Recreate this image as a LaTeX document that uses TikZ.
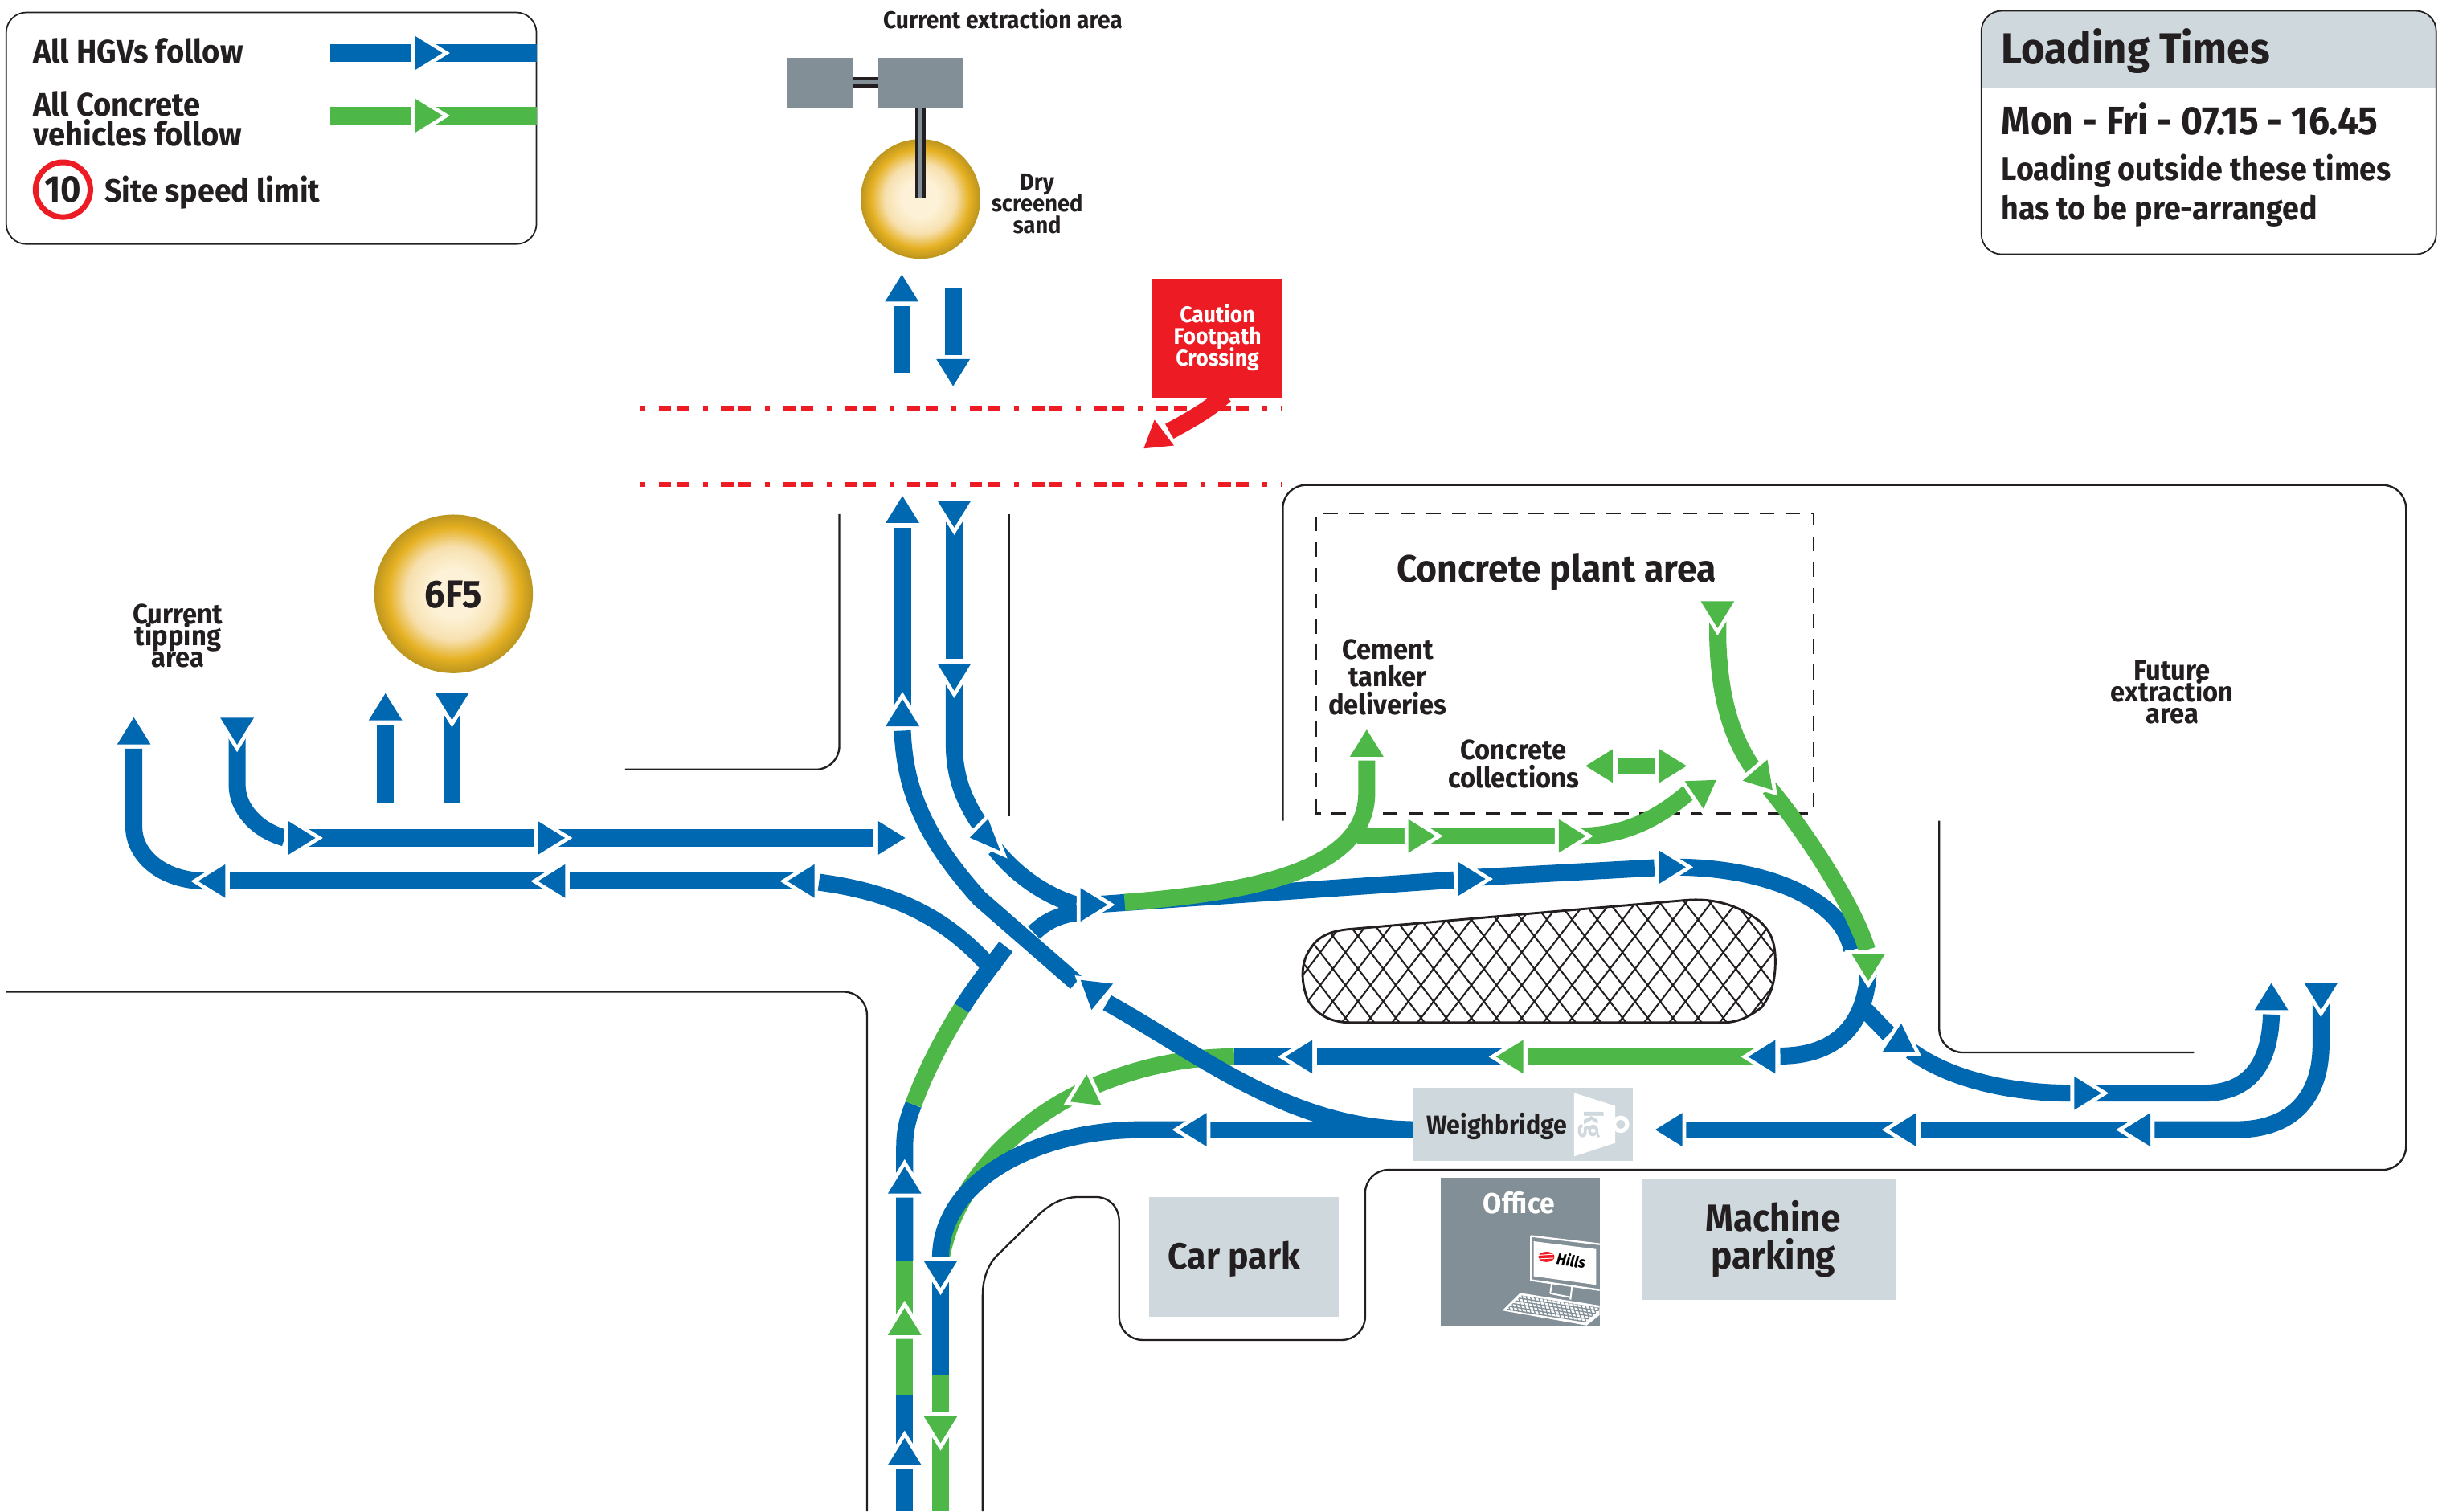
\documentclass[tikz,border=0pt]{standalone}
\usepackage{fontspec}
\setmainfont{Fira Sans}[FakeStretch=0.94]
\setlength\lineskiplimit{-100pt}
\definecolor{cblue}{HTML}{0067B1}
\definecolor{cgreen}{HTML}{4DB848}
\definecolor{cred}{HTML}{ED1C24}
\definecolor{clight}{HTML}{CFD8DD}
\definecolor{cgrey}{HTML}{828F96}
\definecolor{cink}{HTML}{231F20}
\definecolor{sandO}{HTML}{BE971F}
\definecolor{sandG}{HTML}{E5B021}
\definecolor{sandM}{HTML}{F7E0AE}
\definecolor{sandC}{HTML}{FDF2D7}
\tikzset{
  bluepath/.style={draw=cblue,line width=10.9pt,line cap=butt},
  greenpath/.style={draw=cgreen,line width=10.9pt,line cap=butt},
  wall/.style={draw=cink,line width=1.2pt,rounded corners=15pt},
  wallc/.style={draw=cink,line width=1.2pt},
  frame/.style={draw=cink,line width=0.9pt,rounded corners=13pt},
  redline/.style={draw=cred,line width=3pt,dash pattern=on 3.2pt off 8.4pt on 8pt off 3.5pt on 8pt off 8.9pt},
  lab/.style={font=\bfseries\fontsize{#1}{#1}\selectfont,text=cink,inner sep=0pt,align=center},
  labs/.style 2 args={font=\bfseries\fontsize{#1}{#2}\selectfont,text=cink,inner sep=0pt,align=center},
  labl/.style={font=\bfseries\fontsize{#1}{#1}\selectfont,text=cink,inner sep=0pt,anchor=west,align=left},
  labw/.style={font=\bfseries\fontsize{#1}{#1}\selectfont,text=white,inner sep=0pt,align=center},
}
\newcommand\sandpile[3]{\foreach \f in {100,98,...,2}{
  \pgfmathsetmacro\rr{#3*\f/100}
  \ifnum\f>84
    \pgfmathsetmacro\tmix{(\f-84)*100/16}\fill[sandO!\tmix!sandG] (#1,#2) circle[radius=\rr pt];
  \else\ifnum\f>60
    \pgfmathsetmacro\tmix{(\f-60)*100/24}\fill[sandG!\tmix!sandM] (#1,#2) circle[radius=\rr pt];
  \else\ifnum\f>32
    \pgfmathsetmacro\tmix{(\f-32)*100/28}\fill[sandM!\tmix!sandC] (#1,#2) circle[radius=\rr pt];
  \else
    \fill[sandC] (#1,#2) circle[radius=\rr pt];
  \fi\fi\fi
}}
% base middle x,y ; screen angle
\newcommand\headat[4]{\begin{scope}[shift={(#2,#3)},rotate=#4]
\draw[white,line width=5pt,miter limit=10] (0,-10.8)--(17.4,0)--(0,10.8)--cycle;
\fill[#1] (0,-10.8)--(17.4,0)--(0,10.8)--cycle;
\end{scope}}
% three corners
\newcommand\headby[4]{\draw[white,line width=5pt,miter limit=10] (#2)--(#3)--(#4)--cycle;
\fill[#1] (#2)--(#3)--(#4)--cycle;}
\def\blobpath{(866.9,597.8) -- (1085,579) .. controls (1105,577.5) and (1120,584) .. (1131,592) .. controls (1139,599) and (1142,606) .. (1141.8,620) .. controls (1141.5,632) and (1139,640) .. (1133,648) .. controls (1125,654) and (1118,657.8) .. (1108,657.8) -- (868.9,657.8) .. controls (855,657.8) and (846,652) .. (841,643) .. controls (836,630) and (837,618) .. (843,610) .. controls (848,602) and (856,599) .. (866.9,597.8) -- cycle}
\begin{document}
\begin{tikzpicture}[x=1pt,y=-1pt]
\useasboundingbox (0,0) rectangle (1568,972.2);
% ---- walls
\draw[wall] (825,528)--(825,312)--(1547.4,312)--(1547.4,752.5)--(878,752.5)--(878,862)--(719.8,862)--(719.8,786);
\draw[wallc] (719.8,786) .. controls (719.8,776) and (713,770) .. (704.6,770) -- (694,770) .. controls (683,770) and (675,775) .. (668.4,781) -- (642.6,806.3) .. controls (636,812) and (632,822) .. (632,833) -- (632,972.2);
\draw[wall] (4,638)--(557.6,638)--(557.6,972.2);
\draw[wall] (539.8,330.7)--(539.8,495)--(402,495);
\draw[wall] (649,331)--(649,525);
\draw[wall] (1247.2,528)--(1247.2,677)--(1411,677);
\draw[cink,line width=1.2pt,dash pattern=on 9.5pt off 7pt] (846.2,523.2)--(846.2,330.2)--(1166.3,330.2)--(1166.3,523.2)--cycle;
% ---- legend
\draw[frame] (4,8) rectangle (345,157);
\node[labl=21] (hgv) at (21,33) {All HGVs follow};
\node[labs={21}{19},anchor=west,align=left] (conc) at (21,76.5) {All Concrete\\vehicles follow};
\draw[cred,line width=3.6pt] (40.5,122) circle[radius=17.6pt];
\node[lab=24] (ten) at (40.5,122) {10};
\node[labl=20.7] (speed) at (67,124) {Site speed limit};
\draw[bluepath] (212.4,34.1)--(265,34.1) (279,34.1)--(345,34.1);
\headat{cblue}{267.2}{34.1}{0}
\draw[greenpath] (212.4,74.4)--(265,74.4) (279,74.4)--(345,74.4);
\headat{cgreen}{267.2}{74.4}{0}
% ---- loading times
\begin{scope}
\clip[rounded corners=13pt] (1274.3,7) rectangle (1566.8,163.6);
\fill[clight] (1274.3,7) rectangle (1566.8,56.6);
\end{scope}
\draw[frame] (1274.3,7) rectangle (1566.8,163.6);
\node[labl=28] (lt) at (1287,33) {Loading Times};
\node[labl=25.4] (mf) at (1287,76.6) {Mon - Fri - 07.15 - 16.45};
\node[labl=20.7] (lo) at (1287,110) {Loading outside these times};
\node[labl=20.7] (pa) at (1287,136) {has to be pre-arranged};
% ---- extraction
\node[lab=15.5] (cea) at (645,12) {Current extraction area};
\sandpile{592}{128}{38.5}
\fill[cgrey] (506,37) rectangle (549,69);
\fill[cgrey] (565,37) rectangle (619,69);
\draw[cink,line width=7pt] (549,53)--(565,53);
\draw[cgrey,line width=2.4pt] (549,53)--(565,53);
\draw[cink,line width=7pt] (592,69)--(592,127.5);
\draw[cgrey,line width=2.4pt] (592,69)--(592,127.5);
\node[labs={15}{14}] (dry) at (667,131) {Dry\\screened\\sand};
\draw[bluepath] (580,240)--(580,197);
\headat{cblue}{580}{194}{90}
\draw[bluepath] (613,185.5)--(613,229);
\headat{cblue}{613}{231}{270}
% ---- caution
\draw[redline] (412,262.5)--(825,262.5);
\draw[redline] (412,311.6)--(825,311.6);
\fill[cred] (741,179.4) rectangle (825,256);
\node[labs={14.6}{14},text=white] (cau) at (783,217) {Caution\\Footpath\\Crossing};
\draw[draw=cred,line width=10.9pt] (788,254) .. controls (778,263) and (766,270) .. (752,277.5);
\headby{cred}{742.5,270}{735.6,288.5}{755,286.6}
% ---- 6F5
\sandpile{291.7}{382}{51}
\node[lab=25] (pile) at (291.7,382.5) {6F5};
\node[labs={18}{14}] (tip) at (114.5,409) {Current\\tipping\\area};
% ---- left bands
\draw[bluepath] (247.9,466)--(247.9,516.5);
\headat{cblue}{247.9}{463.4}{90}
\draw[bluepath] (290.7,458)--(290.7,516.5);
\headat{cblue}{290.7}{445.8}{270}
\draw[bluepath] (152.5,473)--(152.5,504.8) .. controls (152.5,520) and (165,534) .. (183,539);
\draw[bluepath] (197,539)--(343.6,539) (358,539)--(561.9,539);
\headat{cblue}{152.5}{461.7}{270}
\headat{cblue}{185.5}{539}{0}
\headat{cblue}{346}{539}{0}
\headat{cblue}{564.8}{539}{0}
\draw[bluepath] (86.1,481.5)--(86.1,532) .. controls (86.1,550) and (104,566.8) .. (133,566.8);
\draw[bluepath] (147.8,566.8)--(352,566.8) (366.4,566.8)--(512,566.8);
\headat{cblue}{86.1}{478.9}{90}
\headat{cblue}{144.9}{566.8}{180}
\headat{cblue}{363.5}{566.8}{180}
\headat{cblue}{523.8}{566.8}{180}
% ---- feeder from the south
\draw[bluepath] (581.8,972.2)--(581.8,897.4);
\draw[greenpath] (581.8,897.4)--(581.8,811);
\draw[bluepath] (581.8,811.2)--(581.8,738) .. controls (581.8,727) and (584,719) .. (587.5,710.5);
\draw[greenpath] (587.5,710.5) .. controls (594,692) and (606,668) .. (618.5,648.5);
\draw[bluepath] (618.5,648.5) .. controls (627,635) and (637,622) .. (647,609);
\draw[bluepath] (526.7,567.5) .. controls (575,574) and (610,590) .. (640,626);
\draw[bluepath] (665,600) .. controls (673,592) and (683,588) .. (694,587);
% ---- green lane to the south exit
\draw[greenpath] (604.9,812) .. controls (612,765) and (650,725) .. (692,704) .. controls (720,690) and (755,680) .. (793.7,679.8);
\draw[bluepath] (793.7,679.8)--(832,679.8) (847,679.8)--(968,679.8);
\draw[greenpath] (982.4,679.8)--(1131,679.8);
\draw[bluepath] (1145,679.3) .. controls (1185,679) and (1200,655) .. (1201.6,625);
% ---- weighbridge lane
\draw[bluepath] (604.9,809) .. controls (605,760) and (665,726.7) .. (735,726.7) -- (765,726.7);
\draw[bluepath] (776,726.7)--(912,726.7);
\draw[bluepath] (604.9,823)--(604.9,885);
\draw[greenpath] (604.9,885)--(604.9,908);
\draw[greenpath] (604.9,923)--(604.9,972.2);
% ---- diagonal
\draw[white,line width=15.5pt] (642,591)--(684,628);
\draw[bluepath] (580.4,470) .. controls (582,510) and (596,540) .. (630,578) -- (692,632);
\draw[bluepath] (712,645) .. controls (775,680) and (830,726.7) .. (912,726.7);
% ---- vertical from north
\draw[bluepath] (580.4,339.4)--(580.4,456);
\draw[bluepath] (613.7,335)--(613.7,423.8);
\draw[bluepath] (613.7,439)--(613.7,480) .. controls (614,500) and (620,515) .. (630,530);
\draw[bluepath] (640,546) .. controls (655,565) and (675,577) .. (692,582);
% ---- long east lane
\draw[bluepath] (703,582)--(935,566);
\draw[bluepath] (950,564.4)--(1064,558.2);
\draw[bluepath] (1078,557.8)--(1081,557.8) .. controls (1140,559) and (1185,580) .. (1191,611);
\draw[greenpath] (723.3,580.5) .. controls (805,574) and (879,560) .. (879,510) -- (879,489);
\draw[greenpath] (873,537.8)--(903.3,537.8);
\draw[greenpath] (918,537.8)--(1000,537.8);
\draw[greenpath] (1014,537.8)--(1016.4,537.8) .. controls (1045,537.8) and (1068,526) .. (1089,507);
% ---- concrete double
\draw[greenpath] (1040.3,492.7)--(1064.2,492.7);
\draw[greenpath] (1104.8,399)--(1104.8,412) .. controls (1106,450) and (1114,475) .. (1128,495);
\draw[greenpath] (1138,507) .. controls (1165,540) and (1193,585) .. (1200.8,611);
% ---- east loop
\draw[bluepath] (1200,650)--(1214.8,665.3);
\draw[bluepath] (1229,676) .. controls (1255,695) and (1295,703.2) .. (1332,703.2);
\draw[bluepath] (1346,703.2)--(1417,703.2) .. controls (1450,703.2) and (1460,680) .. (1460.8,652.6);
\draw[bluepath] (1492.7,644)--(1492.7,672) .. controls (1492.7,705) and (1475,726.7) .. (1438,726.7)--(1385.8,726.7);
\draw[bluepath] (1372,726.7)--(1235,726.7) (1222,726.7)--(1084.5,726.7);
% ---- arrow heads
\headat{cblue}{580.4}{336.4}{90}
\headat{cblue}{580.4}{467.2}{90}
\headat{cblue}{613.7}{322}{270}
\headat{cblue}{613.7}{426.9}{270}
\headby{cblue}{635.5,526.8}{623.7,538.8}{643.4,547.5}
\headat{cblue}{694.9}{582}{0}
\headby{cblue}{695,630.4}{715.8,632.8}{702,649.7}
\headat{cblue}{581.8}{767.8}{90}
\headat{cgreen}{581.8}{858.8}{90}
\headat{cblue}{581.8}{942.4}{90}
\headat{cblue}{604.9}{811}{270}
\headat{cgreen}{604.9}{911}{270}
\headby{cgreen}{698.9,691.1}{688.2,708.7}{708.4,711.1}
\headat{cblue}{844}{679.8}{180}
\headat{cgreen}{979.6}{679.8}{180}
\headat{cblue}{1141.8}{679.8}{180}
\headat{cblue}{776}{726.7}{180}
\headat{cblue}{938}{565.4}{0}
\headat{cblue}{1066.8}{557.8}{0}
\headat{cgreen}{879}{486.7}{90}
\headat{cgreen}{905.8}{537.8}{0}
\headat{cgreen}{1002.5}{537.8}{0}
\headby{cgreen}{1083.5,502.5}{1103.8,501.7}{1095.6,520.3}
\headat{cgreen}{1037.2}{492.7}{180}
\headat{cgreen}{1067.3}{492.7}{0}
\headat{cgreen}{1104.6}{386.7}{270}
\headby{cgreen}{1136.7,488.7}{1120.8,502.2}{1140,508.2}
\headat{cgreen}{1201.6}{613.6}{270}
\headby{cblue}{1222.8,658.4}{1210.7,676.7}{1231.8,677}
\headat{cblue}{1334}{703.2}{0}
\headat{cblue}{1460.8}{649.8}{90}
\headat{cblue}{1492.7}{632.2}{270}
\headat{cblue}{1383}{726.7}{180}
\headat{cblue}{1232.4}{726.7}{180}
\headat{cblue}{1082}{726.7}{180}
% ---- blob
\begin{scope}
\clip \blobpath;
\foreach \i in {760,776.2,...,1300}{
  \draw[cink,line width=1.1pt] (\i,560)--++(80,104);
  \draw[cink,line width=1.1pt] (\i,560)--++(-80,104);
}
\end{scope}
\draw[cink,line width=1.5pt] \blobpath;
% ---- text in plant area
\node[lab=24.5] (cpa) at (1001,368) {Concrete plant area};
\node[labs={18}{17.7}] (cem) at (892.5,435.5) {Cement\\tanker\\deliveries};
\node[labs={18}{18}] (col) at (973.5,491.5) {Concrete\\collections};
\node[labs={18}{14}] (fut) at (1397,445.5) {Future\\extraction\\area};
% ---- boxes
\fill[clight] (909.2,699.6) rectangle (1050.4,746.9);
\node[lab=16.7] (wb) at (962.7,724.4) {Weighbridge};
\fill[white] (1012.3,703)--(1038.8,711.4)--(1038.8,735.2)--(1012.3,743.9)--cycle;
\fill[white] (1042.3,723.2) circle[radius=5.6pt];
\fill[clight] (1042.3,723.2) circle[radius=2.9pt];
\node[font=\bfseries\fontsize{17}{17}\selectfont,text=clight,inner sep=0pt,rotate=-90] (kg) at (1023.4,723.2) {kg};
\fill[clight] (739,770) rectangle (861,847);
\node[lab=23.5] (cp) at (793.7,810) {Car park};
\fill[clight] (1055.7,758.4) rectangle (1219.3,836);
\node[labs={24.3}{24}] (mp) at (1140.5,797) {Machine\\parking};
\fill[cgrey] (926.7,757.8) rectangle (1028.7,852.6);
\node[labw=18.5] (off) at (977,774) {Office};
\begin{scope}
\clip (926.7,757.8) rectangle (1028.7,852.6);
\draw[white,line width=1.2pt] (984.6,795.1)--(1030,800.5) (984.6,795.1)--(984.6,823.5)--(1030,830);
\fill[white] (986.4,798.5)--(1026.5,803.5)--(1026.5,826.5)--(986.4,821)--cycle;
\draw[white,line width=1pt] (998,826)--(997,832) (1011,828)--(1010,836) (997,832)--(1010,834.5);
\fill[white] (966.2,843)--(977.7,831.7)--(1030,840)--(1030,845)--(1020.4,852.6)--cycle;
\begin{scope}
\clip (968.5,842.6)--(978.6,833.4)--(1030,841.5)--(1019.5,850.6)--cycle;
\foreach \k in {0,1,...,24}{\draw[cgrey,line width=0.7pt] (966+2.6*\k,825)--++(8,28);}
\foreach \k in {0,1,...,12}{\draw[cgrey,line width=0.7pt] (960,826+2.1*\k)--++(75,12);}
\end{scope}
\end{scope}
\fill[cred] (994.6,808.5) ellipse[x radius=5.2pt,y radius=3.3pt];
\draw[white,line width=0.5pt] (989,807.5)--(999,806.8) (989.5,809.8)--(999,809.3);
\node[font=\bfseries\itshape\fontsize{10}{10}\selectfont,text=black,inner sep=0pt,rotate=-8] (hills) at (1010.5,810.8) {Hills};
\end{tikzpicture}
\end{document}
